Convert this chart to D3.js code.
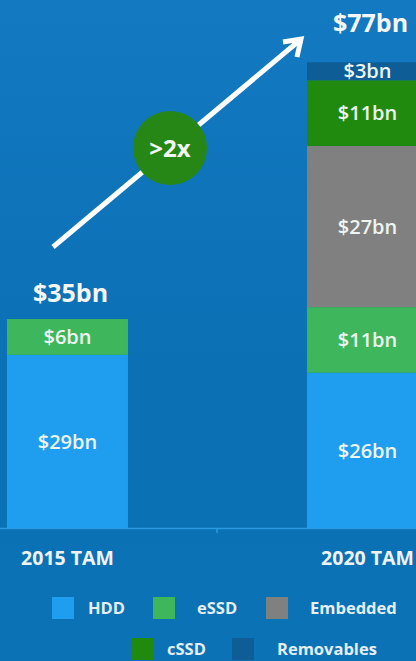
<!DOCTYPE html>
<html>
<head>
<meta charset="utf-8">
<script src="https://cdn.jsdelivr.net/npm/d3@7"></script>
<style>
  html, body { margin: 0; padding: 0; overflow: hidden; }
  svg { display: block; font-family: "Open Sans", "Noto Sans", sans-serif; }
</style>
</head>
<body>
<div id="chart"></div>
<script>
// chart data
const years = ["2015 TAM", "2020 TAM"];
const segments = ["HDD", "eSSD", "Embedded", "cSSD", "Removables"];
const hdd = [29, 26];
const essd = [6, 11];
const embedded = [0, 27];
const cssd = [0, 11];
const removables = [0, 3];
const totalLabels = ["$35bn", "$77bn"];
const growthLabel = ">2x";

const colors = {
  HDD: "#1f9ef0",
  eSSD: "#3db65c",
  Embedded: "#808080",
  cSSD: "#1f8a0e",
  Removables: "#0e5d96"
};

const width = 416, height = 661;
const baseY = 528;

const svg = d3.select("#chart").append("svg")
  .attr("width", width)
  .attr("height", height);

const defs = svg.append("defs");
const bg = defs.append("linearGradient")
  .attr("id", "bg")
  .attr("x1", 0).attr("y1", 0).attr("x2", 0).attr("y2", 1);
bg.append("stop").attr("offset", "0%").attr("stop-color", "#1379c1");
bg.append("stop").attr("offset", "55%").attr("stop-color", "#0b70b4");
bg.append("stop").attr("offset", "100%").attr("stop-color", "#0b72b6");

svg.append("rect")
  .attr("width", width)
  .attr("height", height)
  .attr("fill", "url(#bg)");

// scales
const x = d3.scaleBand()
  .domain(years)
  .range([7, 428])
  .paddingInner(0.5967)
  .paddingOuter(0);

const y = d3.scaleLinear()
  .domain([0, 80])
  .range([baseY, baseY - 80 * 5.97]);

// stacked data
const table = years.map((yr, i) => ({
  year: yr,
  HDD: hdd[i],
  eSSD: essd[i],
  Embedded: embedded[i],
  cSSD: cssd[i],
  Removables: removables[i]
}));

const stack = d3.stack().keys(segments);
const series = stack(table);

const layers = svg.append("g")
  .selectAll("g")
  .data(series)
  .join("g")
  .attr("fill", d => colors[d.key]);

layers.selectAll("rect")
  .data(d => d.map(p => ({ key: d.key, p })))
  .join("rect")
  .attr("x", d => x(d.p.data.year))
  .attr("width", x.bandwidth())
  .attr("y", d => y(d.p[1]))
  .attr("height", d => y(d.p[0]) - y(d.p[1]));

// segment labels
const segLabels = [];
series.forEach(s => {
  s.forEach(p => {
    const v = p[1] - p[0];
    if (v > 0) segLabels.push({ year: p.data.year, v, mid: (p[0] + p[1]) / 2 });
  });
});

svg.append("g")
  .selectAll("text")
  .data(segLabels)
  .join("text")
  .attr("x", d => x(d.year) + x.bandwidth() / 2)
  .attr("y", d => y(d.mid))
  .attr("dy", "0.36em")
  .attr("text-anchor", "middle")
  .attr("fill", "#eef4ee")
  .attr("font-size", 20)
  .attr("font-weight", 600)
  .text(d => `$${d.v}bn`);

// totals (gap above bar differs per bar in the original)
const totals = table.map(d => segments.reduce((a, k) => a + d[k], 0));
const totalGap = [17, 30];
svg.append("g")
  .selectAll("text")
  .data(years)
  .join("text")
  .attr("x", d => x(d) + x.bandwidth() / 2 + 3)
  .attr("y", (d, i) => y(totals[i]) - totalGap[i])
  .attr("text-anchor", "middle")
  .attr("fill", "#f4f6f8")
  .attr("font-size", 25)
  .attr("font-weight", 700)
  .text((d, i) => totalLabels[i]);

// baseline axis
svg.append("line")
  .attr("x1", 0).attr("x2", width)
  .attr("y1", baseY + 0.5).attr("y2", baseY + 0.5)
  .attr("stroke", "#2b9ae2")
  .attr("stroke-width", 1.5);

svg.append("line")
  .attr("x1", 217).attr("x2", 217)
  .attr("y1", baseY).attr("y2", baseY + 5)
  .attr("stroke", "#2b9ae2")
  .attr("stroke-width", 1.5);

svg.append("g")
  .selectAll("text")
  .data(years)
  .join("text")
  .attr("x", d => x(d) + x.bandwidth() / 2)
  .attr("y", 565)
  .attr("text-anchor", "middle")
  .attr("fill", "#f0f3f6")
  .attr("font-size", 19.5)
  .attr("font-weight", 700)
  .text(d => d);

// growth arrow
const arrow = svg.append("g")
  .attr("stroke", "#ffffff")
  .attr("stroke-width", 5)
  .attr("fill", "none");

arrow.append("line")
  .attr("x1", 53).attr("y1", 247)
  .attr("x2", 300).attr("y2", 40);

arrow.append("path")
  .attr("d", "M283,42 L301,39 L297,57")
  .attr("stroke-linejoin", "miter")
  .attr("stroke-linecap", "butt");

svg.append("circle")
  .attr("cx", 170).attr("cy", 148)
  .attr("r", 37)
  .attr("fill", "#278716");

svg.append("text")
  .attr("x", 170).attr("y", 148)
  .attr("dy", "0.36em")
  .attr("text-anchor", "middle")
  .attr("fill", "#f2f5f0")
  .attr("font-size", 24)
  .attr("font-weight", 700)
  .text(growthLabel);

// legend
const legendLayout = [
  { sx: 52, tx: 88, cy: 608 },
  { sx: 153, tx: 197, cy: 608 },
  { sx: 266, tx: 310, cy: 608 },
  { sx: 131, tx: 167, cy: 649 },
  { sx: 232, tx: 277, cy: 649 }
];

const legend = svg.append("g")
  .selectAll("g")
  .data(segments)
  .join("g");

legend.append("rect")
  .attr("x", (d, i) => legendLayout[i].sx)
  .attr("y", (d, i) => legendLayout[i].cy - 11)
  .attr("width", 22)
  .attr("height", 22)
  .attr("fill", d => colors[d]);

legend.append("text")
  .attr("x", (d, i) => legendLayout[i].tx)
  .attr("y", (d, i) => legendLayout[i].cy)
  .attr("dy", "0.36em")
  .attr("fill", "#e6eef6")
  .attr("font-size", 16.5)
  .attr("font-weight", 700)
  .text(d => d);
</script>
</body>
</html>
